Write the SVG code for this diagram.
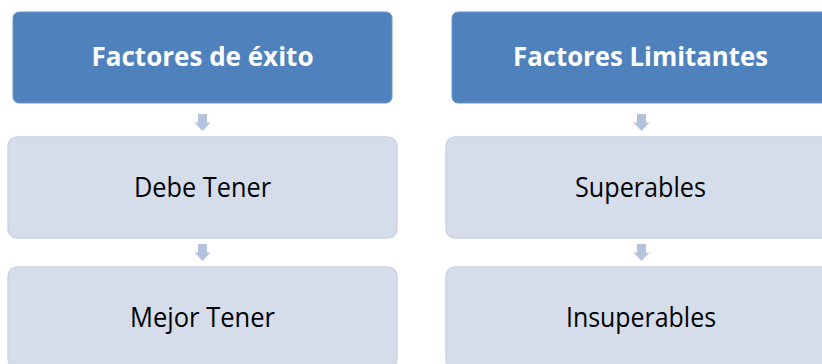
<svg xmlns="http://www.w3.org/2000/svg" width="822" height="364" viewBox="0 0 822 364">
  <style>
    .head { fill: #4F81BD; stroke: #6C95C8; stroke-width: 1; }
    .item { fill: #D5DCEA; stroke: #CCD4E6; stroke-width: 1.5; }
    .ht { font-family: "Open Sans", "Liberation Sans", sans-serif; font-weight: bold; font-size: 27px; fill: #FFFFFF; text-anchor: middle; }
    .it { font-family: "Open Sans", "Liberation Sans", sans-serif; font-size: 27px; fill: #000000; text-anchor: middle; }
    .arrow { fill: #B3C2DE; }
  </style>
  <defs>
    <path id="down" d="M-4.5,0 H4.5 V8.5 H8 L0,17 L-8,8.5 H-4.5 Z"/>
  </defs>
  <rect width="822" height="364" fill="#FFFFFF"/>

  <g id="connectors">
    <use href="#down" class="arrow" x="202.5" y="114"/>
    <use href="#down" class="arrow" x="202.5" y="244"/>
    <use href="#down" class="arrow" x="641.5" y="114"/>
    <use href="#down" class="arrow" x="641.5" y="244"/>
  </g>

  <g id="factores-exito">
    <rect class="head" x="13" y="12" width="379" height="91" rx="6"/>
    <text class="ht" x="202.5" y="66" textLength="222" lengthAdjust="spacingAndGlyphs">Factores de éxito</text>
  </g>
  <g id="debe-tener">
    <rect class="item" x="8" y="137" width="389" height="101" rx="9"/>
    <text class="it" x="202.5" y="197" textLength="137" lengthAdjust="spacingAndGlyphs">Debe Tener</text>
  </g>
  <g id="mejor-tener">
    <rect class="item" x="8" y="267" width="389" height="101" rx="9"/>
    <text class="it" x="202.5" y="327" textLength="145" lengthAdjust="spacingAndGlyphs">Mejor Tener</text>
  </g>

  <g id="factores-limitantes">
    <rect class="head" x="452" y="12" width="379" height="91" rx="6"/>
    <text class="ht" x="640.5" y="66" textLength="255" lengthAdjust="spacingAndGlyphs">Factores Limitantes</text>
  </g>
  <g id="superables">
    <rect class="item" x="446" y="137" width="389" height="101" rx="9"/>
    <text class="it" x="640.5" y="197" textLength="131" lengthAdjust="spacingAndGlyphs">Superables</text>
  </g>
  <g id="insuperables">
    <rect class="item" x="446" y="267" width="389" height="101" rx="9"/>
    <text class="it" x="641" y="327" textLength="150" lengthAdjust="spacingAndGlyphs">Insuperables</text>
  </g>
</svg>
